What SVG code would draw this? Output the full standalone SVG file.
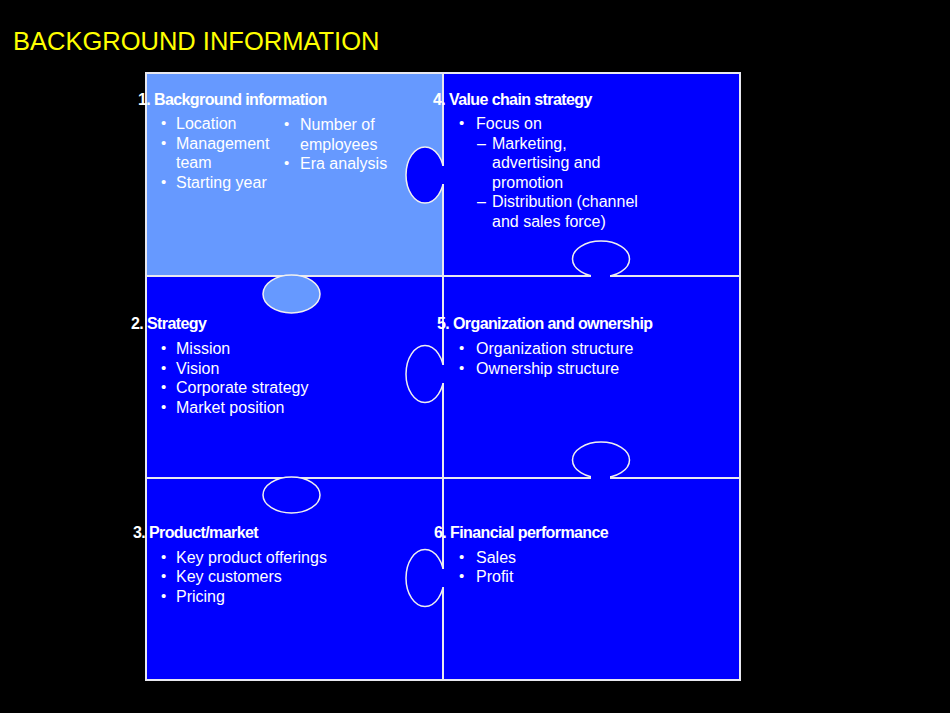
<svg xmlns="http://www.w3.org/2000/svg" width="950" height="713" viewBox="0 0 950 713">
<style>
.cell{stroke:#e8e8f0;stroke-width:2}
.dark{fill:#0000ff}
.light{fill:#6699ff}
.knob{stroke:#f0f0f0;stroke-width:1.5}
.h{font-family:"Liberation Sans",Arial,sans-serif;font-size:16px;font-weight:bold;fill:#ffffff;letter-spacing:-0.6px}
.t{font-family:"Liberation Sans",Arial,sans-serif;font-size:16px;fill:#ffffff}
.b{font-family:"Liberation Sans",Arial,sans-serif;font-size:15px;fill:#ffffff}
</style>
<rect x="0" y="0" width="950" height="713" fill="#000000"/>
<text x="13" y="50" font-family="Liberation Sans,Arial,sans-serif" font-size="25.5" fill="#ffff00">BACKGROUND INFORMATION</text>

<g id="cell1"><rect class="cell light" x="146" y="73" width="297" height="203"/></g>
<g id="cell4"><rect class="cell dark" x="443" y="73" width="297" height="203"/></g>
<g id="cell2"><rect class="cell dark" x="146" y="276" width="297" height="202"/></g>
<g id="cell5"><rect class="cell dark" x="443" y="276" width="297" height="202"/></g>
<g id="cell3"><rect class="cell dark" x="146" y="478" width="297" height="202"/></g>
<g id="cell6"><rect class="cell dark" x="443" y="478" width="297" height="202"/></g>

<g id="connectors">
  <ellipse class="knob dark" cx="425" cy="175" rx="19" ry="28"/>
  <rect class="dark" x="438" y="166" width="9" height="18"/>
  <ellipse class="knob light" cx="291.5" cy="294" rx="28.5" ry="19"/>
  <ellipse class="knob dark" cx="601" cy="259" rx="28.5" ry="18"/>
  <rect class="dark" x="591" y="270" width="19" height="10"/>
  <ellipse class="knob dark" cx="425" cy="374" rx="19" ry="28.5"/>
  <rect class="dark" x="438" y="365" width="9" height="18"/>
  <ellipse class="knob dark" cx="601" cy="460" rx="28.5" ry="18"/>
  <rect class="dark" x="591" y="471" width="19" height="10"/>
  <ellipse class="knob dark" cx="291.5" cy="495" rx="28.5" ry="18"/>
  <ellipse class="knob dark" cx="425" cy="578" rx="19" ry="28.5"/>
  <rect class="dark" x="438" y="569" width="9" height="18"/>
</g>

<g id="text1">
  <text class="h" x="138" y="105">1. Background information</text>
  <text class="b" x="161" y="128">•</text><text class="t" x="176" y="129">Location</text>
  <text class="b" x="161" y="147.5">•</text><text class="t" x="176" y="148.5">Management</text>
  <text class="t" x="176" y="168">team</text>
  <text class="b" x="161" y="186.5">•</text><text class="t" x="176" y="187.5">Starting year</text>
  <text class="b" x="284" y="128.5">•</text><text class="t" x="300" y="130">Number of</text>
  <text class="t" x="300" y="149.5">employees</text>
  <text class="b" x="284" y="168">•</text><text class="t" x="300" y="169">Era analysis</text>
</g>
<g id="text4">
  <text class="h" x="433" y="105">4. Value chain strategy</text>
  <text class="b" x="459" y="128">•</text><text class="t" x="476" y="129">Focus on</text>
  <text class="t" x="477" y="148.5">–</text><text class="t" x="492" y="148.5">Marketing,</text>
  <text class="t" x="492" y="168">advertising and</text>
  <text class="t" x="492" y="187.5">promotion</text>
  <text class="t" x="477" y="207">–</text><text class="t" x="492" y="207">Distribution (channel</text>
  <text class="t" x="492" y="226.5">and sales force)</text>
</g>
<g id="text2">
  <text class="h" x="131" y="329">2. Strategy</text>
  <text class="b" x="161" y="353">•</text><text class="t" x="176" y="354">Mission</text>
  <text class="b" x="161" y="372.5">•</text><text class="t" x="176" y="373.5">Vision</text>
  <text class="b" x="161" y="392">•</text><text class="t" x="176" y="393">Corporate strategy</text>
  <text class="b" x="161" y="411.5">•</text><text class="t" x="176" y="412.5">Market position</text>
</g>
<g id="text5">
  <text class="h" x="437" y="329">5. Organization and ownership</text>
  <text class="b" x="459" y="353">•</text><text class="t" x="476" y="354">Organization structure</text>
  <text class="b" x="459" y="372.5">•</text><text class="t" x="476" y="373.5">Ownership structure</text>
</g>
<g id="text3">
  <text class="h" x="133" y="538">3. Product/market</text>
  <text class="b" x="161" y="561.5">•</text><text class="t" x="176" y="562.5">Key product offerings</text>
  <text class="b" x="161" y="581">•</text><text class="t" x="176" y="582">Key customers</text>
  <text class="b" x="161" y="600.5">•</text><text class="t" x="176" y="601.5">Pricing</text>
</g>
<g id="text6">
  <text class="h" x="434" y="538">6. Financial performance</text>
  <text class="b" x="459" y="561.5">•</text><text class="t" x="476" y="562.5">Sales</text>
  <text class="b" x="459" y="581">•</text><text class="t" x="476" y="582">Profit</text>
</g>
</svg>
